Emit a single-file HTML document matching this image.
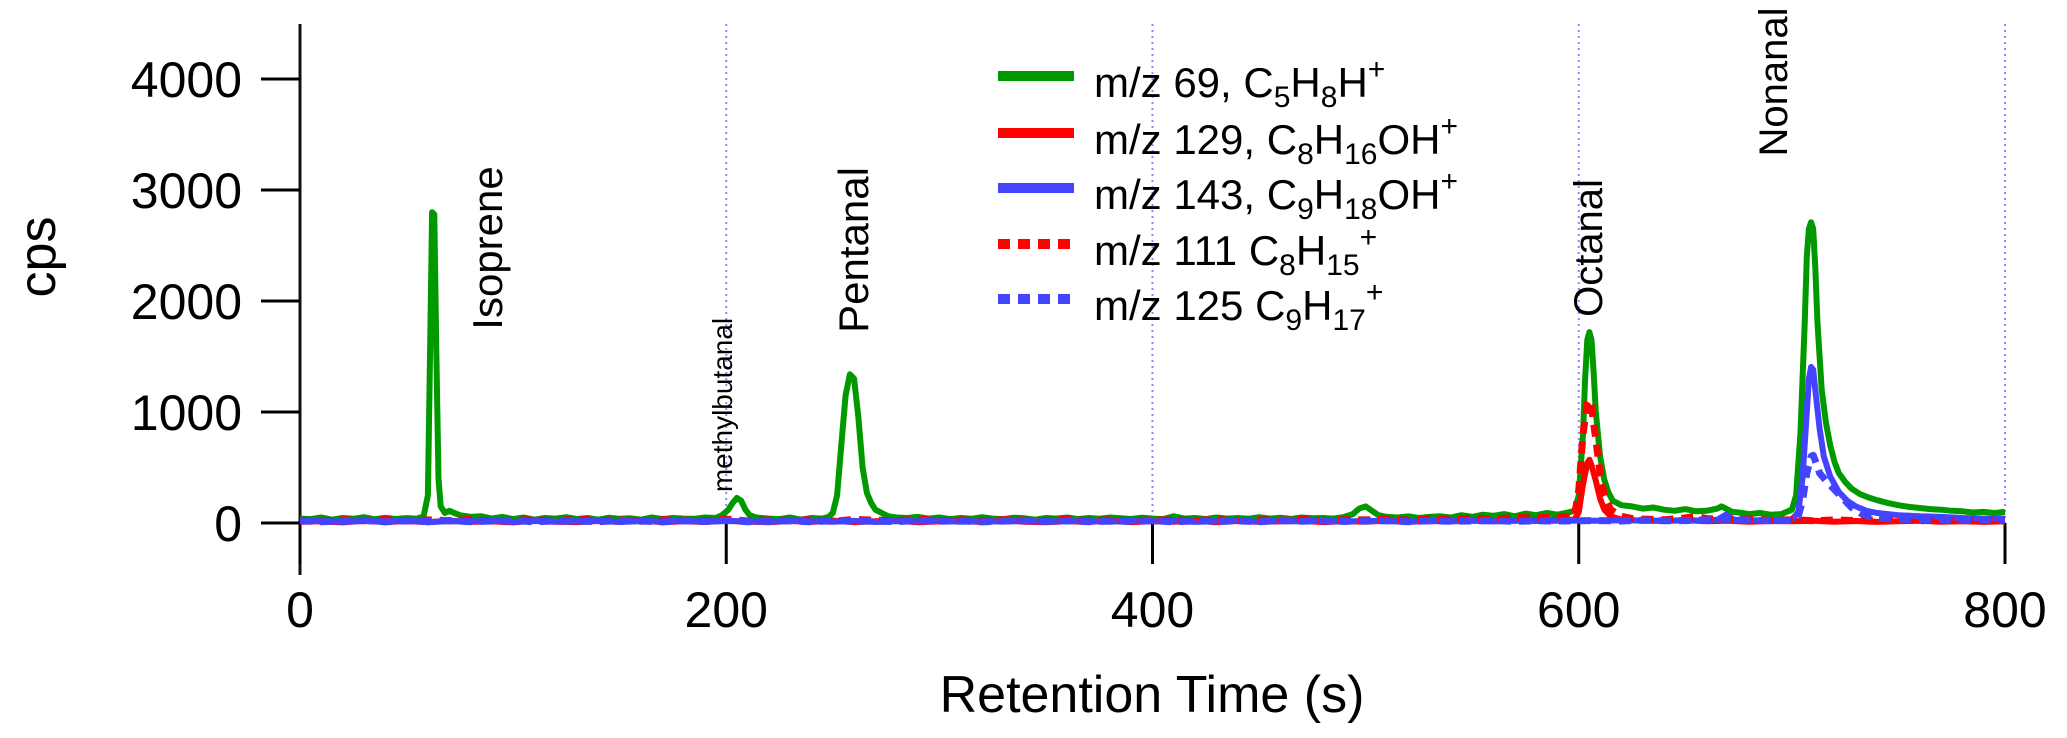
<!DOCTYPE html>
<html><head><meta charset="utf-8"><style>
html,body{margin:0;padding:0;background:#fff;}
#wrap{position:relative;width:2067px;height:738px;overflow:hidden;font-family:"Liberation Sans",Arial,sans-serif;}
svg{position:absolute;left:0;top:0;}
.leg{position:absolute;left:1094px;font-size:42px;line-height:1;white-space:nowrap;color:#000;}
.leg sub{font-size:30px;vertical-align:-10px;}
.leg sup{font-size:30px;vertical-align:18px;}
</style></head><body>
<div id="wrap">
<svg id="chart" width="2067" height="738"></svg>
<div class="leg" style="top:55px">m/z 69, C<sub>5</sub>H<sub>8</sub>H<sup>+</sup></div>
<div class="leg" style="top:112px">m/z 129, C<sub>8</sub>H<sub>16</sub>OH<sup>+</sup></div>
<div class="leg" style="top:167px">m/z 143, C<sub>9</sub>H<sub>18</sub>OH<sup>+</sup></div>
<div class="leg" style="top:223px">m/z 111 C<sub>8</sub>H<sub>15</sub><sup>+</sup></div>
<div class="leg" style="top:278px">m/z 125 C<sub>9</sub>H<sub>17</sub><sup>+</sup></div>
</div>
<script>
const xTicks=[0,200,400,600,800];
const yTicks=[0,1000,2000,3000,4000];
const greenT=[0,5,10,15,20,25,30,35,40,45,50,55,58,60,61,62,63,64,65,66,68,70,75,80,85,90,95,100,105,110,115,120,125,130,135,140,145,150,155,160,165,170,175,180,185,190,195,198,201,203,205,207,209,211,214,220,225,230,235,240,245,248,250,252,254,256,258,260,262,264,266,268,270,273,276,280,285,290,295,300,305,310,315,320,325,330,335,340,345,350,355,360,365,370,375,380,385,390,395,400,405,410,415,420,425,430,435,440,445,450,455,460,465,470,475,480,485,490,494,497,500,503,506,510,515,520,525,530,535,540,545,550,555,560,565,570,575,580,585,590,595,598,600,602,603,604,605,606,607,608,610,612,614,616,620,625,630,635,640,645,650,655,660,665,667,669,672,675,680,685,690,695,700,702,704,706,707,708,709,710,711,712,714,716,718,720,722,725,728,732,736,740,745,750,755,760,765,770,775,780,785,790,795,800];
const greenV=[40,35,50,30,45,38,52,33,47,36,44,40,60,250,1500,2800,2780,1500,400,150,90,110,70,55,60,40,55,35,50,30,45,40,52,35,45,30,48,38,42,30,50,35,45,40,38,50,45,70,120,180,225,200,120,70,50,40,35,50,30,45,40,55,90,250,700,1150,1340,1300,950,500,270,180,120,90,60,50,45,55,40,50,35,45,38,52,40,35,48,42,30,45,40,50,35,45,38,50,42,36,48,40,35,60,40,45,35,50,40,45,38,52,40,48,36,50,42,45,40,55,80,130,150,110,70,55,50,60,45,55,60,50,70,55,75,65,80,60,85,70,90,75,95,110,250,800,1300,1650,1720,1650,1350,1000,600,390,270,200,160,150,130,140,120,110,125,105,110,130,150,130,100,95,80,90,75,80,120,250,800,1800,2400,2650,2710,2650,2300,1800,1200,900,700,550,450,370,310,260,230,205,180,160,145,135,125,120,110,105,95,100,90,100];
const redT=[0,10,20,30,40,50,60,70,80,90,100,110,120,130,140,150,160,170,180,190,200,210,220,230,240,250,260,270,280,290,300,310,320,330,340,350,360,370,380,390,400,410,420,430,440,450,460,470,480,490,500,510,520,530,540,550,560,570,580,590,598,600,602,604,605,606,608,610,612,615,620,630,640,650,660,670,680,690,700,710,720,730,740,750,760,770,780,790,800];
const redV=[10,15,5,20,8,18,6,22,10,14,5,20,12,8,18,10,25,6,15,9,20,12,7,18,10,22,8,15,20,6,14,18,9,22,12,7,16,10,20,8,15,12,22,6,18,10,14,20,8,16,12,22,10,18,14,24,16,20,26,30,30,100,350,540,570,520,380,220,120,60,30,22,18,25,15,20,12,18,15,20,12,18,10,15,20,12,16,10,14];
const redDashT=[0,10,20,30,40,50,60,70,80,90,100,110,120,130,140,150,160,170,180,190,200,210,220,230,240,250,260,270,280,290,300,310,320,330,340,350,360,370,380,390,400,410,420,430,440,450,460,470,480,490,500,510,520,530,540,550,560,570,580,590,598,600,602,604,605,606,608,610,612,615,620,625,630,640,650,655,660,670,680,690,700,710,720,730,740,750,760,770,780,790,800];
const redDashV=[25,15,30,20,35,18,28,22,32,15,25,30,18,35,22,28,15,30,25,20,35,18,28,22,30,15,32,25,20,35,22,28,18,30,25,22,35,20,28,15,30,25,22,32,18,28,25,35,20,30,28,35,25,40,30,45,35,50,45,55,60,300,800,1080,1110,1050,750,450,250,120,60,40,35,30,45,60,40,30,35,25,30,20,28,22,30,25,20,28,22,25,30];
const blueT=[0,10,20,30,40,50,60,70,80,90,100,110,120,130,140,150,160,170,180,190,200,210,220,230,240,250,260,270,280,290,300,310,320,330,340,350,360,370,380,390,400,410,420,430,440,450,460,470,480,490,500,510,520,530,540,550,560,570,580,590,600,610,620,630,640,650,660,665,669,673,680,690,700,703,705,707,708,709,710,711,713,715,718,722,726,730,735,740,750,760,770,780,790,800];
const blueV=[15,20,10,18,12,22,8,16,14,20,10,18,12,15,22,9,17,13,20,11,18,14,10,20,16,12,19,9,17,14,21,11,16,13,20,10,18,15,12,20,14,18,10,16,22,12,17,14,19,11,20,15,13,18,16,20,14,22,18,20,22,20,25,22,20,24,22,30,75,30,25,22,30,100,400,1000,1300,1405,1380,1200,850,600,420,280,200,150,110,90,70,60,55,45,40,40];
const blueDashT=[0,10,20,30,40,50,60,70,80,90,100,110,120,130,140,150,160,170,180,190,200,210,220,230,240,250,260,270,280,290,300,310,320,330,340,350,360,370,380,390,400,410,420,430,440,450,460,470,480,490,500,510,520,530,540,550,560,570,580,590,600,610,620,630,640,650,660,670,680,690,700,703,705,707,709,710,711,713,716,720,724,728,732,736,740,750,760,770,780,790,800];
const blueDashV=[20,12,18,25,10,20,15,22,12,18,24,10,20,16,12,22,18,10,20,14,25,12,18,20,10,22,15,18,12,24,16,20,10,18,22,14,20,12,18,16,22,10,20,15,18,12,24,16,20,14,18,22,12,20,16,18,22,14,20,18,20,22,18,25,20,22,28,35,25,20,25,60,200,450,600,610,560,450,380,300,220,140,90,60,45,35,30,28,25,30,28];

const NS='http://www.w3.org/2000/svg';
const svg=document.getElementById('chart');
const X0=300,XS=(2005-300)/800,Y0=523,YS=111/1000;
function xPos(t){return X0+t*XS;}
function yPos(v){return Y0-v*YS;}
function mk(tag,attrs){const e=document.createElementNS(NS,tag);for(const k in attrs)e.setAttribute(k,attrs[k]);svg.appendChild(e);return e;}

xTicks.forEach(function(t){
  if(t===0)return;
  const g=mk('line',{x1:xPos(t),x2:xPos(t),y1:24,y2:Y0,stroke:'#8888ff','stroke-width':2,'stroke-dasharray':'2,4'});
  
  
});
const ax=mk('line',{x1:X0,x2:X0,y1:24,y2:575,stroke:'#111','stroke-width':3});


yTicks.forEach(function(v){
  const tk=mk('line',{x1:261,x2:X0,y1:yPos(v),y2:yPos(v),stroke:'#000','stroke-width':3});
  
  
  const tx=mk('text',{x:242,y:yPos(v)+18,'text-anchor':'end','font-size':50,'font-family':'Liberation Sans, Arial, sans-serif'});
  tx.textContent=v;
  
  
});
xTicks.forEach(function(t){
  const tk=mk('line',{x1:xPos(t),x2:xPos(t),y1:Y0,y2:564,stroke:'#000','stroke-width':3});
  
  
  const tx=mk('text',{x:xPos(t),y:627,'text-anchor':'middle','font-size':50,'font-family':'Liberation Sans, Arial, sans-serif'});
  tx.textContent=t;
  
  
});
const xt=mk('text',{x:1152,y:712,'text-anchor':'middle','font-size':52,'font-family':'Liberation Sans, Arial, sans-serif'});
xt.textContent='Retention Time (s)';


const yt=mk('text',{x:0,y:0,'text-anchor':'middle','font-size':52,'font-family':'Liberation Sans, Arial, sans-serif',transform:'translate(55,257) rotate(-90)'});
yt.textContent='cps';



function series(ts,vs,color,dash,name){
  let d='';
  for(let i=0;i<ts.length;i++){d+=(i?'L':'M')+xPos(ts[i]).toFixed(1)+','+yPos(vs[i]).toFixed(1);}
  const p=mk('path',{d:d,fill:'none',stroke:color,'stroke-width':dash?7:6,'stroke-linejoin':'round'});
  if(dash)p.setAttribute('stroke-dasharray',dash);
  
  
}
series(greenT,greenV,'#009900',null,'series-mz69');
series(redT,redV,'#ff0000',null,'series-mz129');
series(blueT,blueV,'#4444ff',null,'series-mz143');
series(redDashT,redDashV,'#ff0000','12,8','series-mz111');
series(blueDashT,blueDashV,'#4444ff','12,8','series-mz125');

const legColors=['#009900','#ff0000','#4444ff','#ff0000','#4444ff'];
const legDash=[null,null,null,'12,8','12,8'];
const legNames=['mz69','mz129','mz143','mz111','mz125'];
const legY=[76,133,188,244,299];
for(let i=0;i<5;i++){
  const l=mk('line',{x1:998,x2:1074,y1:legY[i],y2:legY[i],stroke:legColors[i],'stroke-width':10});
  if(legDash[i])l.setAttribute('stroke-dasharray',legDash[i]);
  
  
}
function vlabel(txt,x,y,fs,name){
  const t=mk('text',{x:0,y:0,'text-anchor':'middle','font-size':fs,'font-family':'Liberation Sans, Arial, sans-serif',transform:'translate('+x+','+y+') rotate(-90)'});
  t.textContent=txt;
  
  
}
vlabel('Isoprene',502,248,42,'label-isoprene');
vlabel('methylbutanal',732,405,28,'label-methylbutanal');
vlabel('Pentanal',868,250,42,'label-pentanal');
vlabel('Octanal',1602,248,40,'label-octanal');
vlabel('Nonanal',1787,82,40,'label-nonanal');
</script>
</body></html>
